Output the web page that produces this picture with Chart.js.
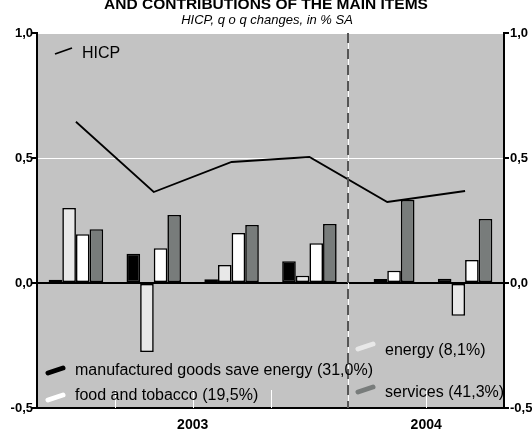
<!DOCTYPE html>
<html>
<head>
<meta charset="utf-8">
<title>HICP contributions</title>
<script src="https://cdn.jsdelivr.net/npm/chart.js"></script>
<style>
  html, body { margin: 0; padding: 0; background: #fff; }
</style>
</head>
<body>
<canvas id="chart" width="532" height="434"></canvas>
<script>
const quarters = ['2003 Q1', '2003 Q2', '2003 Q3', '2003 Q4', '2004 Q1', '2004 Q2'];
const years = ['2003', '2004'];
const yearSpans = [[0, 3], [4, 5]];
const hicp = [0.645, 0.364, 0.484, 0.504, 0.324, 0.368];
const manufactured = [0.013, 0.117, 0.015, 0.087, 0.0, 0.017];
const energy = [0.30, -0.276, 0.072, 0.029, 0.016, -0.131];
const food = [0.195, 0.139, 0.20, 0.159, 0.049, 0.092];
const services = [0.215, 0.272, 0.232, 0.236, 0.332, 0.256];
const yTicks = [-0.5, 0, 0.5, 1.0];

const FONT = '"Liberation Sans", Arial, Helvetica, sans-serif';
Chart.defaults.font.family = FONT;
Chart.defaults.color = '#000';

function fmt(v) { return v.toFixed(1).replace('.', ','); }

function swatch(ctx, x1, y1, x2, y2, color) {
  ctx.save();
  ctx.strokeStyle = color;
  ctx.lineWidth = 5;
  ctx.lineCap = 'round';
  ctx.beginPath();
  ctx.moveTo(x1, y1);
  ctx.lineTo(x2, y2);
  ctx.stroke();
  ctx.restore();
}

const decor = {
  id: 'decor',
  beforeDraw(chart) {
    const a = chart.chartArea, ctx = chart.ctx;
    ctx.save();
    ctx.fillStyle = '#c3c3c3';
    ctx.fillRect(a.left, a.top, a.right - a.left, a.bottom - a.top);
    ctx.restore();
  },
  beforeDatasetsDraw(chart) {
    const a = chart.chartArea, ctx = chart.ctx;
    const step = (a.right - a.left) / quarters.length;
    ctx.save();
    ctx.strokeStyle = '#fff';
    ctx.lineWidth = 1;
    for (let k = 1; k < quarters.length; k++) {
      const x = Math.round(a.left + k * step) + 0.5;
      ctx.beginPath();
      ctx.moveTo(x, k === 4 ? a.top : a.bottom - 18);
      ctx.lineTo(x, a.bottom);
      ctx.stroke();
    }
    ctx.restore();
  },
  afterDatasetsDraw(chart) {
    const a = chart.chartArea, ctx = chart.ctx;
    const step = (a.right - a.left) / quarters.length;
    // year separator
    const bx = Math.round(a.left + 4 * step);
    ctx.save();
    ctx.strokeStyle = '#555';
    ctx.lineWidth = 2;
    ctx.setLineDash([10, 6]);
    ctx.beginPath();
    ctx.moveTo(bx, a.top);
    ctx.lineTo(bx, a.bottom);
    ctx.stroke();
    ctx.restore();

    // legend
    ctx.save();
    ctx.strokeStyle = '#000';
    ctx.lineWidth = 1.8;
    ctx.beginPath();
    ctx.moveTo(55, 54);
    ctx.lineTo(72, 48);
    ctx.stroke();
    ctx.fillStyle = '#000';
    ctx.font = '16px ' + FONT;
    ctx.textBaseline = 'alphabetic';
    ctx.textAlign = 'left';
    const ds = chart.data.datasets;
    ctx.fillText(ds[0].label, 82, 58);
    swatch(ctx, 48, 373, 63, 368, '#000');
    ctx.fillText(ds[1].label, 75, 375);
    swatch(ctx, 48, 400, 63, 395, '#fff');
    ctx.fillText(ds[3].label, 75, 400);
    swatch(ctx, 358, 349, 373, 344, '#e8e8e8');
    ctx.fillText(ds[2].label, 385, 355);
    swatch(ctx, 358, 392, 373, 387, '#787c7b');
    ctx.fillText(ds[4].label, 385, 397);
    ctx.restore();
  },
  afterDraw(chart) {
    const a = chart.chartArea, ctx = chart.ctx, xs = chart.scales.x, ys = chart.scales.y;
    ctx.save();
    // axis tick marks and labels
    ctx.strokeStyle = '#000';
    ctx.fillStyle = '#000';
    ctx.lineWidth = 2;
    ctx.font = 'bold 13px ' + FONT;
    ctx.textBaseline = 'middle';
    yTicks.forEach(v => {
      const y = ys.getPixelForValue(v);
      ctx.beginPath();
      ctx.moveTo(a.left - 5, y);
      ctx.lineTo(a.left, y);
      ctx.moveTo(a.right, y);
      ctx.lineTo(a.right + 5, y);
      ctx.stroke();
      ctx.textAlign = 'right';
      ctx.fillText(fmt(v), a.left - 4, y);
      ctx.textAlign = 'left';
      ctx.fillText(fmt(v), a.right + 6, y);
    });
    ctx.textAlign = 'center';
    ctx.textBaseline = 'alphabetic';
    ctx.font = 'bold 15.5px ' + FONT;
    ctx.fillText('AND CONTRIBUTIONS OF THE MAIN ITEMS', 266, 9);
    ctx.font = 'italic 13px ' + FONT;
    ctx.fillText('HICP, q o q changes, in % SA', 267, 24);
    ctx.font = 'bold 14px ' + FONT;
    years.forEach((y, i) => {
      const [s, e] = yearSpans[i];
      const cx = (xs.getPixelForValue(s) + xs.getPixelForValue(e)) / 2;
      ctx.fillText(y, cx, 429);
    });
    ctx.restore();
  }
};

const bar = (label, data, color) => ({
  label, data, backgroundColor: color, borderColor: '#000',
  borderWidth: 1.6, borderSkipped: false, order: 1
});

new Chart(document.getElementById('chart'), {
  type: 'bar',
  data: {
    labels: quarters,
    datasets: [
      { type: 'line', label: 'HICP', data: hicp, borderColor: '#000', borderWidth: 1.8,
        pointRadius: 0, fill: false, tension: 0, order: 0 },
      bar('manufactured goods save energy (31,0%)', manufactured, '#000'),
      bar('energy (8,1%)', energy, '#e8e8e8'),
      bar('food and tobacco (19,5%)', food, '#ffffff'),
      bar('services (41,3%)', services, '#787c7b')
    ]
  },
  options: {
    responsive: false,
    animation: false,
    layout: { padding: { top: 33 } },
    plugins: { legend: { display: false }, tooltip: { enabled: false } },
    datasets: { bar: { categoryPercentage: 0.7, barPercentage: 1 } },
    scales: {
      x: {
        grid: { display: false },
        ticks: { display: false },
        border: { color: '#000', width: 2 },
        afterFit(s) { s.height = 26; }
      },
      y: {
        position: 'left', min: -0.5, max: 1,
        afterBuildTicks(s) { s.ticks = yTicks.map(v => ({ value: v })); },
        ticks: { display: false },
        grid: {
          color(c) {
            const v = c.tick ? c.tick.value : null;
            if (v === 0) return '#000';
            if (v === -0.5) return 'rgba(0,0,0,0)';
            return '#fff';
          },
          lineWidth(c) { return c.tick && c.tick.value === 0 ? 2 : 1; },
          drawTicks: false
        },
        border: { color: '#000', width: 2 },
        afterFit(s) { s.width = 37; }
      },
      y2: {
        position: 'right', min: -0.5, max: 1,
        afterBuildTicks(s) { s.ticks = yTicks.map(v => ({ value: v })); },
        ticks: { display: false },
        grid: { drawOnChartArea: false, drawTicks: false },
        border: { color: '#000', width: 2 },
        afterFit(s) { s.width = 28; }
      }
    }
  },
  plugins: [decor]
});
</script>
</body>
</html>
